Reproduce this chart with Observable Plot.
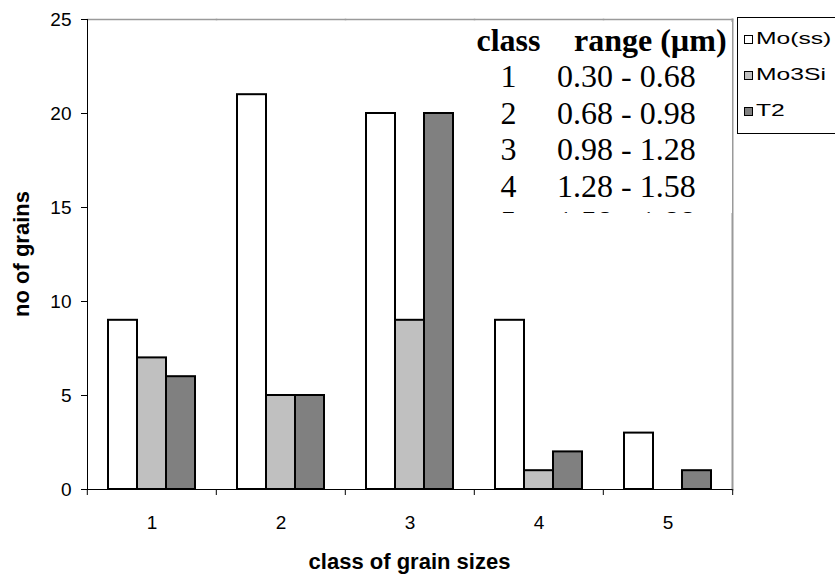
<!DOCTYPE html>
<html>
<head>
<meta charset="utf-8">
<script src="https://cdn.jsdelivr.net/npm/d3@7"></script>
<script src="https://cdn.jsdelivr.net/npm/@observablehq/plot@0.6"></script>
<style>
  html, body { margin: 0; padding: 0; background: #fff; overflow: hidden; }
  #fig { position: relative; width: 835px; height: 575px; overflow: hidden;
         font-family: "Liberation Sans", Arial, sans-serif; color: #000; }
  #fig > svg { position: absolute; left: 0; top: 0; }
  .title { position: absolute; font-weight: bold; font-size: 22px; line-height: 26px;
           white-space: nowrap; text-align: center; }
  #xtitle { left: 86px; width: 647px; top: 549px; }
  #ytitle { left: -78px; width: 200px; top: 241px; transform: rotate(-90deg); transform-origin: 50% 50%; }
  #ranges { position: absolute; left: 470px; top: 21.6px; width: 262px; height: 191px; overflow: hidden;
            background: #fff; font-family: "Liberation Serif", "Times New Roman", serif; font-size: 32px; }
  .row { position: relative; height: 36.5px; line-height: 36.5px; white-space: nowrap; }
  .row span { position: absolute; top: 0; }
  .row .c1 { left: 0; width: 77px; text-align: center; }
  .row .c2 { left: 87px; }
  .row.head { font-weight: bold; }
  .row.head .c2 { left: 104px; }
  #legend { position: absolute; left: 737px; top: 17px; width: 120px; height: 115px;
            border: 1px solid #000; background: #fff; }
  .sw { position: absolute; left: 6px; width: 7px; height: 7px; border: 1px solid #000; }
  .lab { position: absolute; left: 18px; font-size: 17px; line-height: 20px; white-space: nowrap;
         transform: scaleX(1.45); transform-origin: 0 50%; }
</style>
</head>
<body>
<div id="fig">
  <div id="ranges"></div>
  <div id="legend"></div>
  <div class="title" id="xtitle">class of grain sizes</div>
  <div class="title" id="ytitle">no of grains</div>
</div>
<script>
// Grain counts per size class for each phase
const classes = [1, 2, 3, 4, 5];
const series = ["Mo(ss)", "Mo3Si", "T2"];
const mossCounts = [9, 21, 20, 9, 3];
const mo3siCounts = [7, 5, 9, 1, 0];
const t2Counts = [6, 5, 20, 2, 1];
const yTicks = [0, 5, 10, 15, 20, 25];

// Size range of each class, in micrometres
const rangeHeader = ["class", "range (µm)"];
const classRanges = ["0.30 - 0.68", "0.68 - 0.98", "0.98 - 1.28", "1.28 - 1.58", "1.58 - 1.88"];

const fills = ["#ffffff", "#c0c0c0", "#808080"];

const countsBySeries = [mossCounts, mo3siCounts, t2Counts];
const rows = classes.flatMap((cls, i) =>
  series.map((s, j) => ({cls, series: s, count: countsBySeries[j][i]}))
);

const W = 835, H = 575, mL = 86, mR = 102, mT = 19, mB = 86;
const band = (W - mL - mR) / classes.length;
const tickFont = 19;

const chart = Plot.plot({
  width: W,
  height: H,
  marginLeft: mL,
  marginRight: mR,
  marginTop: mT,
  marginBottom: mB,
  style: {fontFamily: '"Liberation Sans", Arial, sans-serif', fontSize: "19px", color: "#000", background: "#fff"},
  fx: {domain: classes, padding: 0, axis: null},
  x: {domain: series, paddingInner: 0, paddingOuter: 0.7, axis: null},
  y: {domain: [0, 25], axis: null},
  color: {domain: series, range: fills},
  marks: [
    Plot.frame({anchor: "top", stroke: "#9a9a9a", strokeWidth: 1.5}),
    Plot.frame({anchor: "right", facetAnchor: "right", stroke: "#9a9a9a", strokeWidth: 2}),
    Plot.barY(rows, {
      fx: "cls", x: "series", y: "count", fill: "series",
      stroke: "#000", strokeWidth: 2, inset: 0, filter: (d) => d.count > 0
    }),
    Plot.ruleY([0], {stroke: "#000"}),
    Plot.frame({anchor: "left", facetAnchor: "left", stroke: "#000"}),
    Plot.axisY({anchor: "left", ticks: yTicks, tickSize: 6, tickPadding: 10, fontSize: tickFont, label: null}),
    Plot.axisFx({anchor: "bottom", tickSize: 0, tickPadding: 26, fontSize: tickFont, label: null}),
    // ticks between the classes
    Plot.axisFx({anchor: "bottom", dx: -band / 2, tickSize: 6, tickFormat: () => "", label: null}),
    Plot.axisFx({anchor: "bottom", ticks: [classes[classes.length - 1]], dx: band / 2, tickSize: 6, tickFormat: () => "", label: null})
  ]
});
document.getElementById("fig").prepend(chart);

// Class / range table
const ranges = document.getElementById("ranges");
function addRow(a, b, cls) {
  const r = document.createElement("div");
  r.className = "row" + (cls ? " " + cls : "");
  const s1 = document.createElement("span"); s1.className = "c1"; s1.textContent = a;
  const s2 = document.createElement("span"); s2.className = "c2"; s2.textContent = b;
  r.append(s1, s2);
  ranges.append(r);
}
addRow(rangeHeader[0], rangeHeader[1], "head");
classes.forEach((c, i) => addRow(String(c), classRanges[i]));

// Legend
const legend = document.getElementById("legend");
const itemCenters = [21, 56.8, 92.6];
series.forEach((s, i) => {
  const sw = document.createElement("div");
  sw.className = "sw";
  sw.style.top = (itemCenters[i] - 4) + "px";
  sw.style.background = fills[i];
  const lab = document.createElement("div");
  lab.className = "lab";
  lab.style.top = (itemCenters[i] - 10) + "px";
  lab.textContent = s;
  legend.append(sw, lab);
});
</script>
</body>
</html>
